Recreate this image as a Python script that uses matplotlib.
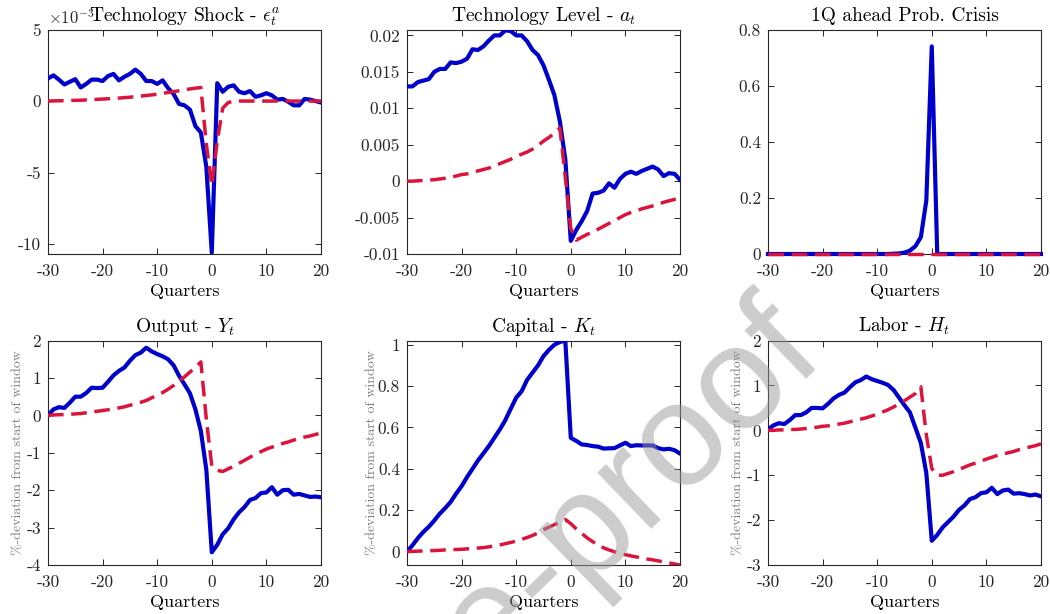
import numpy as np
import matplotlib
matplotlib.use("Agg")
from matplotlib import pyplot as plt
from matplotlib.ticker import FuncFormatter

plt.rcParams["font.family"] = "serif"
plt.rcParams["font.serif"] = ["cmr10"]
plt.rcParams["mathtext.fontset"] = "cm"
plt.rcParams["axes.unicode_minus"] = False
plt.rcParams["axes.formatter.use_mathtext"] = True

quarters = np.arange(-30, 21)

# technology shock (x 1e-3)
shock_data = [1.58, 1.8, 1.5, 1.16, 1.35, 1.53, 0.95, 1.2, 1.5, 1.5,
              1.4, 1.75, 1.9, 1.45, 1.7, 1.9, 2.2, 1.9, 1.4, 1.4,
              1.2, 1.45, 0.9, 0.5, -0.2, -0.3, -0.6, -1.75, -2.2, -4.6,
              -10.6,
              1.25, 0.65, 1.0, 1.1, 0.65, 0.55, 0.7, 0.3, 0.4, 0.55,
              0.4, 0.1, 0.15, -0.05, -0.3, -0.3, 0.15, 0.1, 0.0, -0.1]
shock_model = [0.0, 0.01, 0.02, 0.03, 0.04, 0.05, 0.06, 0.08, 0.1, 0.12,
               0.14, 0.16, 0.19, 0.21, 0.24, 0.27, 0.31, 0.35, 0.39, 0.43,
               0.48, 0.54, 0.6, 0.66, 0.72, 0.78, 0.85, 0.9, 0.95, -3.0,
               -5.9,
               -2.8, -0.5, -0.1, -0.02, 0.0, 0.0, 0.0, 0.0, 0.0, 0.0,
               0.0, 0.0, 0.0, 0.0, 0.0, 0.0, 0.0, 0.0, 0.0, 0.0]

# technology level
level_data = [0.0130, 0.0130, 0.0136, 0.0138, 0.0140, 0.0150, 0.0154, 0.0154, 0.0163, 0.0162,
              0.0164, 0.0168, 0.0181, 0.0180, 0.0185, 0.0193, 0.0200, 0.0200, 0.0207, 0.0206,
              0.0200, 0.0200, 0.0192, 0.0180, 0.0173, 0.0159, 0.0139, 0.0118, 0.0082, 0.0030,
              -0.0082,
              -0.0067, -0.0055, -0.0041, -0.0017, -0.0016, -0.0013, -0.0003, -0.0009, 0.0003, 0.0010,
              0.0013, 0.0010, 0.0014, 0.0017, 0.0020, 0.0016, 0.0007, 0.0011, 0.0010, 0.0002]
level_model = [0.0, 0.0, 0.00005, 0.0001, 0.00015, 0.0002, 0.0003, 0.0004, 0.0005, 0.0007,
               0.0009, 0.0010, 0.0012, 0.0014, 0.0016, 0.0018, 0.0021, 0.0024, 0.0027, 0.0030,
               0.0034, 0.0037, 0.0040, 0.0044, 0.0049, 0.0055, 0.0060, 0.0066, 0.0073, 0.0005,
               -0.0065,
               -0.0081, -0.0077, -0.0073, -0.0070, -0.0066, -0.0062, -0.0058, -0.0054, -0.0050, -0.0046,
               -0.0043, -0.0041, -0.0038, -0.0036, -0.0034, -0.0032, -0.0029, -0.0027, -0.0025, -0.0023]

# 1Q ahead crisis probability
prob_data = [0.0] * 22 + [0.0, 0.001, 0.002, 0.005, 0.012, 0.028, 0.06, 0.19, 0.74] + [0.0] * 20
prob_model = [0.0] * 51

# output
output_data = [0.0, 0.16, 0.22, 0.2, 0.34, 0.5, 0.5, 0.6, 0.74, 0.73,
               0.74, 0.9, 1.07, 1.19, 1.28, 1.46, 1.61, 1.68, 1.81, 1.71,
               1.64, 1.58, 1.5, 1.34, 1.06, 0.83, 0.59, 0.16, -0.42, -1.45,
               -3.66,
               -3.46, -3.18, -3.02, -2.78, -2.59, -2.45, -2.26, -2.21, -2.08, -2.06,
               -1.92, -2.12, -2.0, -1.99, -2.12, -2.1, -2.14, -2.18, -2.17, -2.19]
output_model = [0.0, 0.01, 0.02, 0.02, 0.03, 0.04, 0.05, 0.07, 0.09, 0.11,
                0.13, 0.15, 0.17, 0.2, 0.23, 0.27, 0.31, 0.35, 0.4, 0.47,
                0.54, 0.61, 0.7, 0.8, 0.92, 1.03, 1.16, 1.28, 1.43, -0.1,
                -1.35,
                -1.47, -1.5, -1.43, -1.36, -1.28, -1.2, -1.12, -1.04, -0.97, -0.9,
                -0.85, -0.8, -0.75, -0.71, -0.66, -0.62, -0.58, -0.55, -0.51, -0.47]

# capital
capital_data = [0.0, 0.03, 0.065, 0.095, 0.12, 0.15, 0.183, 0.21, 0.24, 0.28,
                0.316, 0.36, 0.4, 0.44, 0.475, 0.51, 0.55, 0.59, 0.635, 0.69,
                0.744, 0.775, 0.83, 0.865, 0.9, 0.945, 0.975, 1.0, 1.013, 1.02,
                0.55,
                0.535, 0.518, 0.515, 0.51, 0.507, 0.498, 0.499, 0.5, 0.513, 0.526,
                0.51, 0.514, 0.513, 0.513, 0.513, 0.5, 0.494, 0.497, 0.49, 0.474]
capital_model = [0.0, 0.001, 0.002, 0.003, 0.004, 0.005, 0.006, 0.008, 0.009, 0.01,
                 0.011, 0.013, 0.015, 0.017, 0.019, 0.023, 0.027, 0.032, 0.038, 0.044,
                 0.051, 0.059, 0.068, 0.078, 0.09, 0.105, 0.118, 0.13, 0.142, 0.155,
                 0.135,
                 0.11, 0.088, 0.066, 0.048, 0.032, 0.018, 0.008, -0.001, -0.009, -0.015,
                 -0.021, -0.026, -0.031, -0.036, -0.04, -0.045, -0.05, -0.055, -0.06, -0.065]

# labor
labor_data = [0.02, 0.11, 0.16, 0.14, 0.23, 0.34, 0.34, 0.4, 0.5, 0.5,
              0.49, 0.59, 0.71, 0.79, 0.84, 0.96, 1.07, 1.12, 1.2, 1.14,
              1.1, 1.06, 1.01, 0.9, 0.73, 0.56, 0.4, 0.06, -0.28, -0.95,
              -2.46,
              -2.33, -2.16, -2.04, -1.92, -1.77, -1.67, -1.53, -1.49, -1.4, -1.38,
              -1.28, -1.42, -1.34, -1.32, -1.41, -1.4, -1.42, -1.45, -1.43, -1.47]
labor_model = [0.0, 0.0, 0.01, 0.01, 0.02, 0.02, 0.03, 0.04, 0.05, 0.07,
               0.09, 0.1, 0.12, 0.14, 0.16, 0.19, 0.22, 0.25, 0.28, 0.32,
               0.36, 0.41, 0.46, 0.52, 0.59, 0.66, 0.74, 0.82, 0.97, -0.1,
               -0.85,
               -1.0, -1.0, -0.96, -0.92, -0.87, -0.82, -0.77, -0.73, -0.69, -0.64,
               -0.6, -0.56, -0.53, -0.5, -0.47, -0.43, -0.4, -0.37, -0.34, -0.3]

ylab = "%-deviation from start of window"
panels = [
    ("Technology Shock - $\\epsilon^a_t$", np.array(shock_data) * 1e-3, np.array(shock_model) * 1e-3,
     (-10.7e-3, 5e-3), [-10e-3, -5e-3, 0, 5e-3], None),
    ("Technology Level - $a_t$", level_data, level_model,
     (-0.01, 0.0208), [-0.01, -0.005, 0, 0.005, 0.01, 0.015, 0.02], None),
    ("1Q ahead Prob. Crisis", prob_data, prob_model,
     (0, 0.8), [0, 0.2, 0.4, 0.6, 0.8], None),
    ("Output - $Y_t$", output_data, output_model,
     (-4, 2), [-4, -3, -2, -1, 0, 1, 2], -0.085),
    ("Capital - $K_t$", capital_data, capital_model,
     (-0.065, 1.02), [0, 0.2, 0.4, 0.6, 0.8, 1], -0.106),
    ("Labor - $H_t$", labor_data, labor_model,
     (-3, 2), [-3, -2, -1, 0, 1, 2], -0.085),
]

lefts = [0.0457, 0.3876, 0.7314]
bottoms = [0.5863, 0.0798]
w, h = 0.260, 0.3655
axcol = "#262626"

fig = plt.figure(figsize=(10.5, 6.14), dpi=100)
for i, (title, blue, red, ylim, yticks, ylx) in enumerate(panels):
    ax = fig.add_axes([lefts[i % 3], bottoms[i // 3], w, h])
    clip = i != 2
    ax.plot(quarters, blue, color="#0000cc", lw=3.0, solid_joinstyle="round", clip_on=clip, zorder=3)
    ax.plot(quarters, red, color="#dc143c", lw=2.5, ls=(0, (4.5, 2.2)), clip_on=clip, zorder=4)
    ax.set_xlim(-30, 20)
    ax.set_ylim(*ylim)
    ax.set_xticks([-30, -20, -10, 0, 10, 20])
    ax.set_yticks(yticks)
    if i == 0:
        ax.yaxis.set_major_formatter(FuncFormatter(lambda v, p: "%g" % round(v * 1e3, 6)))
        ax.text(0.0, 1.01, r"$\times10^{-3}$", transform=ax.transAxes, ha="left", va="bottom",
                fontsize=12, color=axcol)
    else:
        ax.yaxis.set_major_formatter(FuncFormatter(lambda v, p: "%g" % round(v, 6)))
    ax.xaxis.set_major_formatter(FuncFormatter(lambda v, p: "%g" % v))
    ax.tick_params(direction="in", top=True, right=True, length=4, width=0.7, pad=5,
                   labelsize=12.5, colors=axcol, labelcolor=axcol)
    ax.tick_params(axis="x", pad=7)
    for s in ax.spines.values():
        s.set_color(axcol)
        s.set_linewidth(0.8)
    ax.set_title(title, fontsize=14, pad=6.5)
    ax.set_xlabel("Quarters", fontsize=13, labelpad=3)
    if ylx is not None:
        ax.set_ylabel(ylab, fontsize=10, color="#808080")
        ax.yaxis.set_label_coords(ylx, 0.5)

fig.text(0.788, 0.415, "Journal Pre-proof", fontsize=106, family="Liberation Sans",
         color="#9a9a9a", alpha=0.5, rotation=44, rotation_mode="anchor",
         ha="right", va="baseline", zorder=10)

fig.savefig("out.png", dpi=100)
